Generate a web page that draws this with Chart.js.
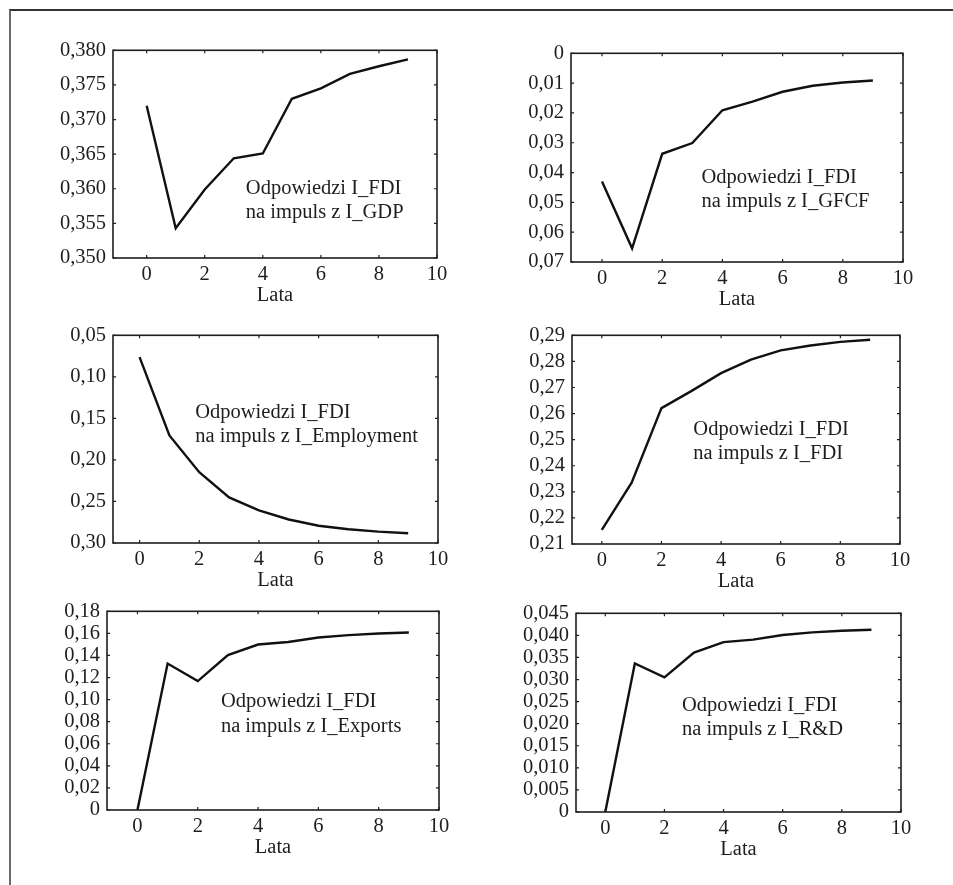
<!DOCTYPE html>
<html>
<head>
<meta charset="utf-8">
<script src="https://cdn.jsdelivr.net/npm/chart.js@4.4.1/dist/chart.umd.min.js"></script>
<style>
    body { margin: 0; background: #fff; width: 953px; height: 885px; overflow: hidden; position: relative; }
    #frame { position: absolute; left: 9px; top: 9px; width: 960px; height: 900px;
             border-top: 2px solid #333; border-left: 2px solid #6a6a6a; }
    canvas { position: absolute; }
</style>
</head>
<body>
<div id="frame"></div>
<canvas id="c1"></canvas>
<canvas id="c2"></canvas>
<canvas id="c3"></canvas>
<canvas id="c4"></canvas>
<canvas id="c5"></canvas>
<canvas id="c6"></canvas>
<script>
// years after the impulse
const lata = [0, 1, 2, 3, 4, 5, 6, 7, 8, 9];
const xTicks = [0, 2, 4, 6, 8, 10];

// responses of I_FDI
const gdpVals = [0.3720, 0.3543, 0.3599, 0.3644, 0.3651, 0.3730, 0.3745, 0.3766, 0.3777, 0.3787];
const gfcfVals = [0.0430, 0.0654, 0.0337, 0.0301, 0.0191, 0.0162, 0.0129, 0.0109, 0.0098, 0.0091];
const employmentVals = [0.0763, 0.1705, 0.2148, 0.2451, 0.2608, 0.2717, 0.2792, 0.2835, 0.2863, 0.2882];
const fdiVals = [0.2154, 0.2335, 0.2621, 0.2686, 0.2755, 0.2807, 0.2842, 0.2861, 0.2875, 0.2883];
const exportsVals = [0, 0.1327, 0.1168, 0.1404, 0.1499, 0.1522, 0.1563, 0.1584, 0.1599, 0.1608];
const rdVals = [0, 0.03365, 0.03047, 0.0361, 0.03846, 0.03905, 0.04009, 0.04068, 0.04105, 0.04127];

// y tick values and their labels
const gdpTicks = [0.350, 0.355, 0.360, 0.365, 0.370, 0.375, 0.380];
const gdpLabels = ['0,350', '0,355', '0,360', '0,365', '0,370', '0,375', '0,380'];
const gfcfTicks = [0, 0.01, 0.02, 0.03, 0.04, 0.05, 0.06, 0.07];
const gfcfLabels = ['0', '0,01', '0,02', '0,03', '0,04', '0,05', '0,06', '0,07'];
const employmentTicks = [0.05, 0.10, 0.15, 0.20, 0.25, 0.30];
const employmentLabels = ['0,05', '0,10', '0,15', '0,20', '0,25', '0,30'];
const fdiTicks = [0.21, 0.22, 0.23, 0.24, 0.25, 0.26, 0.27, 0.28, 0.29];
const fdiLabels = ['0,21', '0,22', '0,23', '0,24', '0,25', '0,26', '0,27', '0,28', '0,29'];
const exportsTicks = [0, 0.02, 0.04, 0.06, 0.08, 0.10, 0.12, 0.14, 0.16, 0.18];
const exportsLabels = ['0', '0,02', '0,04', '0,06', '0,08', '0,10', '0,12', '0,14', '0,16', '0,18'];
const rdTicks = [0, 0.005, 0.010, 0.015, 0.020, 0.025, 0.030, 0.035, 0.040, 0.045];
const rdLabels = ['0', '0,005', '0,010', '0,015', '0,020', '0,025', '0,030', '0,035', '0,040', '0,045'];

const notes = [
    ['Odpowiedzi I_FDI', 'na impuls z I_GDP'],
    ['Odpowiedzi I_FDI', 'na impuls z I_GFCF'],
    ['Odpowiedzi I_FDI', 'na impuls z I_Employment'],
    ['Odpowiedzi I_FDI', 'na impuls z I_FDI'],
    ['Odpowiedzi I_FDI', 'na impuls z I_Exports'],
    ['Odpowiedzi I_FDI', 'na impuls z I_R&D']
];

const panels = [
    { id: 'c1', vals: gdpVals, ticks: gdpTicks, labels: gdpLabels, reverse: false, xMin: -1.16,
      box: [113, 46, 437, 258], note: notes[0], noteAt: [0.41, 0.69] },
    { id: 'c2', vals: gfcfVals, ticks: gfcfTicks, labels: gfcfLabels, reverse: true, xMin: -1.03,
      box: [571, 49, 903, 262], note: notes[1], noteAt: [0.393, 0.62] },
    { id: 'c3', vals: employmentVals, ticks: employmentTicks, labels: employmentLabels, reverse: true, xMin: -0.89,
      box: [113, 331, 438, 543], note: notes[2], noteAt: [0.253, 0.396] },
    { id: 'c4', vals: fdiVals, ticks: fdiTicks, labels: fdiLabels, reverse: false, xMin: -1.0,
      box: [572, 331, 900, 544], note: notes[3], noteAt: [0.37, 0.476] },
    { id: 'c5', vals: exportsVals, ticks: exportsTicks, labels: exportsLabels, reverse: false, xMin: -1.01,
      box: [107, 607, 439, 810], note: notes[4], noteAt: [0.343, 0.484] },
    { id: 'c6', vals: rdVals, ticks: rdTicks, labels: rdLabels, reverse: false, xMin: -0.99,
      box: [576, 609, 901, 812], note: notes[5], noteAt: [0.326, 0.49] }
];

const AXIS_W = 100, AXIS_H = 60, PAD_TOP = 15, PAD_RIGHT = 30;
const ink = '#1e1e1e';

Chart.defaults.font.family = '"Liberation Serif", "DejaVu Serif", serif';
Chart.defaults.font.size = 20.5;
Chart.defaults.color = ink;

// frame, inward tick marks and the note text
const framePlugin = {
    id: 'frame',
    afterDatasetsDraw(chart, args, opts) {
        const ctx = chart.ctx;
        const a = chart.chartArea;
        const xs = chart.scales.x, ys = chart.scales.y;
        ctx.save();
        ctx.strokeStyle = ink;
        ctx.lineWidth = 1.2;
        xs.ticks.forEach(t => {
            const px = xs.getPixelForValue(t.value);
            ctx.beginPath();
            ctx.moveTo(px, a.top); ctx.lineTo(px, a.top + 3);
            ctx.moveTo(px, a.bottom); ctx.lineTo(px, a.bottom - 3);
            ctx.stroke();
        });
        ys.ticks.forEach(t => {
            const py = ys.getPixelForValue(t.value);
            ctx.beginPath();
            ctx.moveTo(a.left, py); ctx.lineTo(a.left + 3, py);
            ctx.moveTo(a.right, py); ctx.lineTo(a.right - 3, py);
            ctx.stroke();
        });
        ctx.lineWidth = 1.6;
        ctx.strokeRect(a.left, a.top, a.right - a.left, a.bottom - a.top);

        ctx.fillStyle = ink;
        ctx.font = '20.5px "Liberation Serif", serif';
        ctx.textAlign = 'left';
        ctx.textBaseline = 'alphabetic';
        const tx = a.left + opts.at[0] * (a.right - a.left);
        const ty = a.top + opts.at[1] * (a.bottom - a.top);
        opts.lines.forEach((line, i) => ctx.fillText(line, tx, ty + i * 24.5));
        ctx.restore();
    }
};

panels.forEach(p => {
    const [l, t, r, b] = p.box;
    const cv = document.getElementById(p.id);
    const w = r - l + AXIS_W + PAD_RIGHT;
    const h = b - t + PAD_TOP + AXIS_H;
    cv.width = w; cv.height = h;
    cv.style.left = (l - AXIS_W) + 'px';
    cv.style.top = (t - PAD_TOP) + 'px';
    cv.style.width = w + 'px';
    cv.style.height = h + 'px';

    new Chart(cv, {
        type: 'line',
        data: {
            datasets: [{
                data: lata.map((x, i) => ({ x: x, y: p.vals[i] })),
                borderColor: '#111',
                borderWidth: 2.4,
                pointRadius: 0,
                tension: 0,
                fill: false
            }]
        },
        options: {
            responsive: false,
            animation: false,
            devicePixelRatio: 1,
            layout: { padding: { top: PAD_TOP, right: PAD_RIGHT, left: 0, bottom: 0 } },
            plugins: {
                legend: { display: false },
                tooltip: { enabled: false },
                frame: { lines: p.note, at: p.noteAt }
            },
            scales: {
                x: {
                    type: 'linear',
                    min: p.xMin,
                    max: 10,
                    grid: { display: false, drawTicks: false },
                    border: { display: false },
                    afterBuildTicks: s => { s.ticks = xTicks.map(v => ({ value: v })); },
                    afterFit: s => { s.height = AXIS_H; },
                    ticks: { padding: 4, maxRotation: 0, autoSkip: false },
                    title: { display: true, text: 'Lata', padding: { top: 0, bottom: 10 } }
                },
                y: {
                    type: 'linear',
                    min: p.ticks[0],
                    max: p.ticks[p.ticks.length - 1],
                    reverse: p.reverse,
                    grid: { display: false, drawTicks: false },
                    border: { display: false },
                    afterBuildTicks: s => { s.ticks = p.ticks.map(v => ({ value: v })); },
                    afterFit: s => { s.width = AXIS_W; },
                    ticks: { padding: 7, autoSkip: false, callback: (v, i) => p.labels[i] }
                }
            }
        },
        plugins: [framePlugin]
    });
});
</script>
</body>
</html>
